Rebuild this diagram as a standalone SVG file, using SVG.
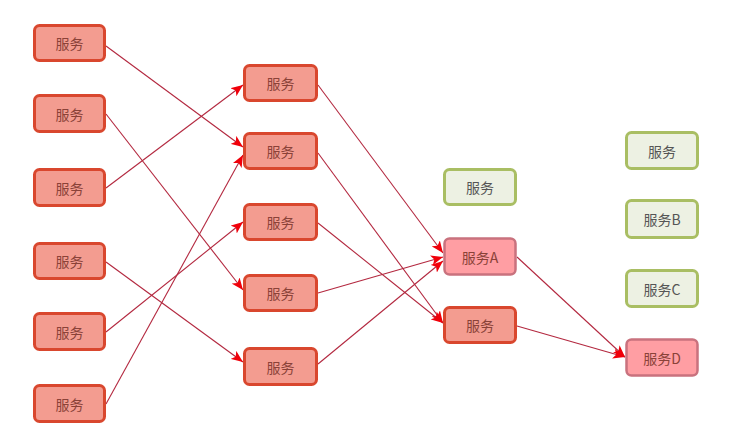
<svg xmlns="http://www.w3.org/2000/svg" width="749" height="447" viewBox="0 0 749 447">
<defs>
<style>
.r rect{fill:#F39C90;stroke:#D9472E;stroke-width:3}
.p rect{fill:#FF9EA3;stroke:#C9727E;stroke-width:2.5}
.g rect{fill:#EDF1E3;stroke:#A9BE63;stroke-width:3}
text{font-family:"Noto Sans CJK SC","Liberation Sans",sans-serif;font-size:14px;text-anchor:middle;dominant-baseline:central}
.r text,.p text{fill:#8A4238}
.g text{fill:#555}
#conn line{stroke:#B3283F;stroke-width:1.1;marker-end:url(#ah)}
</style>
<marker id="ah" markerUnits="userSpaceOnUse" markerWidth="12" markerHeight="10" viewBox="0 0 12 10" refX="12" refY="5" orient="auto">
<path d="M0,0 L12,5 L0,10 L3,5 Z" fill="#F0000A"/>
</marker>
</defs>
<rect width="749" height="447" fill="#fff"/>
<g id="conn">
<line x1="106" y1="46" x2="243" y2="147"/>
<line x1="106" y1="114" x2="243" y2="290"/>
<line x1="106" y1="188" x2="243" y2="85"/>
<line x1="106" y1="262" x2="243" y2="362"/>
<line x1="106" y1="332" x2="243" y2="222"/>
<line x1="106" y1="404" x2="243" y2="155"/>
<line x1="318" y1="85" x2="443" y2="253"/>
<line x1="318" y1="153" x2="443" y2="323"/>
<line x1="318" y1="223" x2="443" y2="323"/>
<line x1="318" y1="293" x2="443" y2="257"/>
<line x1="318" y1="364" x2="443" y2="261"/>
<line x1="517" y1="257" x2="625" y2="357"/>
<line x1="517" y1="326" x2="625" y2="357"/>
</g>
<g id="c1n1" class="r"><rect x="34.5" y="25.5" width="70" height="35" rx="5"/><text x="69.5" y="43">服务</text></g>
<g id="c1n2" class="r"><rect x="34.5" y="95.5" width="70" height="36" rx="5"/><text x="69.5" y="113.5">服务</text></g>
<g id="c1n3" class="r"><rect x="34.5" y="169.5" width="70" height="36" rx="5"/><text x="69.5" y="187.5">服务</text></g>
<g id="c1n4" class="r"><rect x="34.5" y="243.5" width="70" height="35" rx="5"/><text x="69.5" y="261">服务</text></g>
<g id="c1n5" class="r"><rect x="34.5" y="313.5" width="70" height="36" rx="5"/><text x="69.5" y="331.5">服务</text></g>
<g id="c1n6" class="r"><rect x="34.5" y="385.5" width="70" height="36" rx="5"/><text x="69.5" y="403.5">服务</text></g>
<g id="c2n1" class="r"><rect x="244.5" y="65.5" width="72" height="35" rx="5"/><text x="280.5" y="83">服务</text></g>
<g id="c2n2" class="r"><rect x="244.5" y="133.5" width="72" height="35" rx="5"/><text x="280.5" y="151">服务</text></g>
<g id="c2n3" class="r"><rect x="244.5" y="204.5" width="72" height="35" rx="5"/><text x="280.5" y="222">服务</text></g>
<g id="c2n4" class="r"><rect x="244.5" y="275.5" width="72" height="35" rx="5"/><text x="280.5" y="293">服务</text></g>
<g id="c2n5" class="r"><rect x="244.5" y="348.5" width="72" height="36" rx="5"/><text x="280.5" y="366.5">服务</text></g>
<g id="c3n1" class="g"><rect x="444.5" y="169.5" width="71" height="35" rx="5"/><text x="480" y="187">服务</text></g>
<g id="c3nA" class="p"><rect x="444.5" y="238.5" width="71" height="36" rx="5"/><text x="480" y="256.5">服务A</text></g>
<g id="c3n3" class="r"><rect x="444.5" y="307.5" width="71" height="35" rx="5"/><text x="480" y="325">服务</text></g>
<g id="c4n1" class="g"><rect x="626.5" y="132.5" width="71" height="36" rx="5"/><text x="662" y="150.5">服务</text></g>
<g id="c4nB" class="g"><rect x="626.5" y="200.5" width="71" height="37" rx="5"/><text x="662" y="219">服务B</text></g>
<g id="c4nC" class="g"><rect x="626.5" y="270.5" width="71" height="36" rx="5"/><text x="662" y="288.5">服务C</text></g>
<g id="c4nD" class="p"><rect x="626.5" y="339.5" width="71" height="36" rx="5"/><text x="662" y="357.5">服务D</text></g>
</svg>
